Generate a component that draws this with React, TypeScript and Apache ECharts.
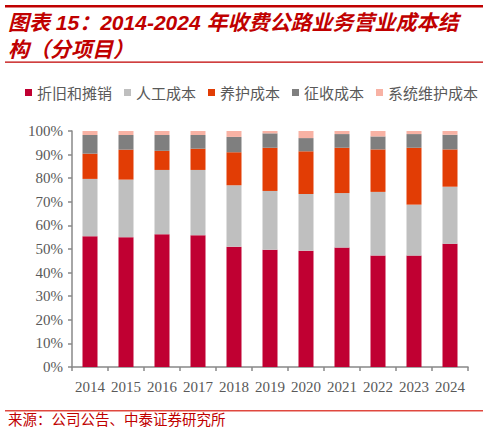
import { useEffect, useRef } from 'react';
import * as echarts from 'echarts';

const years = ['2014', '2015', '2016', '2017', '2018', '2019', '2020', '2021', '2022', '2023', '2024'];
const seriesNames = ['折旧和摊销', '人工成本', '养护成本', '征收成本', '系统维护成本'];
const colors = ['#C00032', '#BFBFBF', '#E23D05', '#7F7F7F', '#F8B2A4'];

// 各项成本占比（%）
const depreciation = [55.4, 55.0, 56.2, 55.8, 51.0, 49.7, 49.3, 50.6, 47.2, 47.2, 52.2];
const labor = [24.3, 24.4, 27.3, 27.7, 26.0, 24.9, 24.0, 23.1, 27.0, 21.6, 24.2];
const maintenance = [10.7, 12.7, 8.1, 9.0, 14.0, 18.3, 18.1, 19.2, 18.0, 24.1, 15.8];
const collection = [7.9, 6.2, 6.7, 5.8, 6.5, 6.1, 5.6, 5.8, 5.5, 5.8, 6.2];
const systemMaint = [1.7, 1.7, 1.7, 1.7, 2.5, 1.0, 3.0, 1.3, 2.3, 1.3, 1.6];

const yTicks = [0, 10, 20, 30, 40, 50, 60, 70, 80, 90, 100];

const titleText = '图表 15：2014-2024 年收费公路业务营业成本结\n构（分项目）';
const sourceText = '来源：公司公告、中泰证券研究所';

export default function App() {
  const chartRef = useRef<HTMLDivElement>(null);

  useEffect(() => {
    if (!chartRef.current) return;
    const chart = echarts.init(chartRef.current, undefined, { renderer: 'svg' });
    const data = [depreciation, labor, maintenance, collection, systemMaint];

    chart.setOption({
      animation: false,
      backgroundColor: '#ffffff',
      title: {
        text: titleText,
        left: 8,
        top: 9,
        padding: 0,
        textStyle: {
          color: '#C00000',
          fontSize: 21,
          fontWeight: 'bold',
          fontStyle: 'italic',
          lineHeight: 27,
          fontFamily: '"Liberation Sans", "Noto Sans CJK SC", sans-serif',
        },
      },
      legend: {
        data: seriesNames,
        left: 20,
        top: 80,
        itemWidth: 7,
        itemHeight: 7,
        itemGap: 12,
        icon: 'rect',
        textStyle: {
          color: '#595959',
          fontSize: 15,
          fontFamily: '"Noto Sans CJK SC", sans-serif',
        },
      },
      grid: { left: 72, right: 20, top: 131, bottom: 66 },
      xAxis: {
        type: 'category',
        data: years,
        axisLine: { lineStyle: { color: '#888888', width: 1.5 } },
        axisTick: { show: true, length: 4, lineStyle: { color: '#888888', width: 1.5 } },
        axisLabel: {
          interval: 0,
          color: '#595959',
          fontSize: 15,
          margin: 12,
          fontFamily: '"Liberation Serif", serif',
        },
      },
      yAxis: {
        type: 'value',
        min: yTicks[0],
        max: yTicks[yTicks.length - 1],
        interval: 10,
        axisLine: { show: true, lineStyle: { color: '#888888', width: 1.5 } },
        axisTick: { show: true, length: 4, lineStyle: { color: '#888888', width: 1.5 } },
        splitLine: { show: false },
        axisLabel: {
          color: '#595959',
          fontSize: 15,
          margin: 9,
          formatter: '{value}%',
          fontFamily: '"Liberation Serif", serif',
        },
      },
      series: seriesNames.map((name, i) => ({
        name,
        type: 'bar',
        stack: 'total',
        barWidth: 15,
        data: data[i],
        itemStyle: { color: colors[i] },
      })),
      graphic: [
        { type: 'rect', shape: { x: 5, y: 5, width: 478, height: 2.5 }, style: { fill: '#C00000' } },
        { type: 'rect', shape: { x: 5, y: 61.5, width: 478, height: 1.2 }, style: { fill: '#C00000' } },
        { type: 'rect', shape: { x: 5, y: 410, width: 478, height: 1.5 }, style: { fill: '#E0483F' } },
        {
          type: 'text',
          left: 8,
          top: 411,
          style: {
            text: sourceText,
            fill: '#C00000',
            fontSize: 14.5,
            fontFamily: '"Noto Sans CJK SC", sans-serif',
          },
        },
      ],
    });

    return () => {
      chart.dispose();
    };
  }, []);

  return (
    <div
      ref={chartRef}
      style={{ position: 'fixed', left: 0, top: 0, width: 488, height: 433 }}
    />
  );
}
